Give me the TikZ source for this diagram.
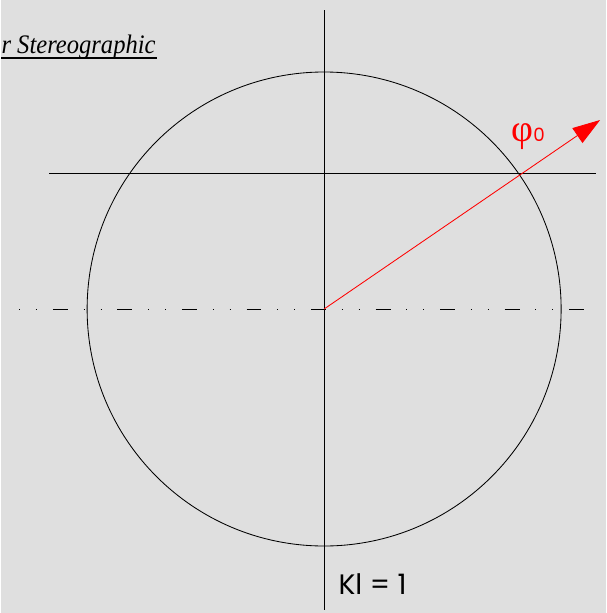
\documentclass[tikz,border=0pt]{standalone}
\usepackage{fontspec}
\usetikzlibrary{arrows.meta}
\newfontfamily\geofont{Poppins}
\newfontfamily\phifont{Liberation Serif}
\definecolor{bggray}{RGB}{223,223,223}
\begin{document}
\begin{tikzpicture}[x=0.025cm, y=-0.025cm, line join=round, line width=0.6pt]
	\fill[bggray] (0,0) rectangle (605,613);
	\coordinate (O) at (323,309);
	\coordinate (T) at (323,10);
	\coordinate (B) at (323,610);
	\coordinate (L) at (18,309);
	\coordinate (R) at (595,309);
	\coordinate (HL) at (48,173);
	\coordinate (HR) at (595,173);
	\coordinate (P) at (599,120);
	
	\draw (O) circle[radius=237];
	\draw (T) -- (B);
	\draw (HL) -- (HR);
	\draw[dash pattern=on 0.7pt off 11.3pt on 0.7pt off 11.3pt on 10.6pt off 11.3pt] (L) -- (R);
	\draw[red, -{Triangle[length=19.6pt, width=12.7pt]}] (O) -- (P);
	
	\node[red, anchor=base west, inner sep=0pt, font=\fontsize{27}{27}\selectfont] (phi) at (510,141) {\phifont φ\geofont\fontsize{13}{13}\selectfont 0};
	\node[anchor=base west, inner sep=0pt, font=\geofont\fontsize{20}{20}\selectfont] (kl) at (337,594) {Kl = 1};
	\node[anchor=base west, inner sep=0pt, font=\phifont\itshape\fontsize{19}{19}\selectfont, xscale=0.92] (title) at (0,53) {r Stereographic};
	\draw[line width=1.6pt] (title.base west) ++(0,5) -- ++(156,0);
\end{tikzpicture}
\end{document}
